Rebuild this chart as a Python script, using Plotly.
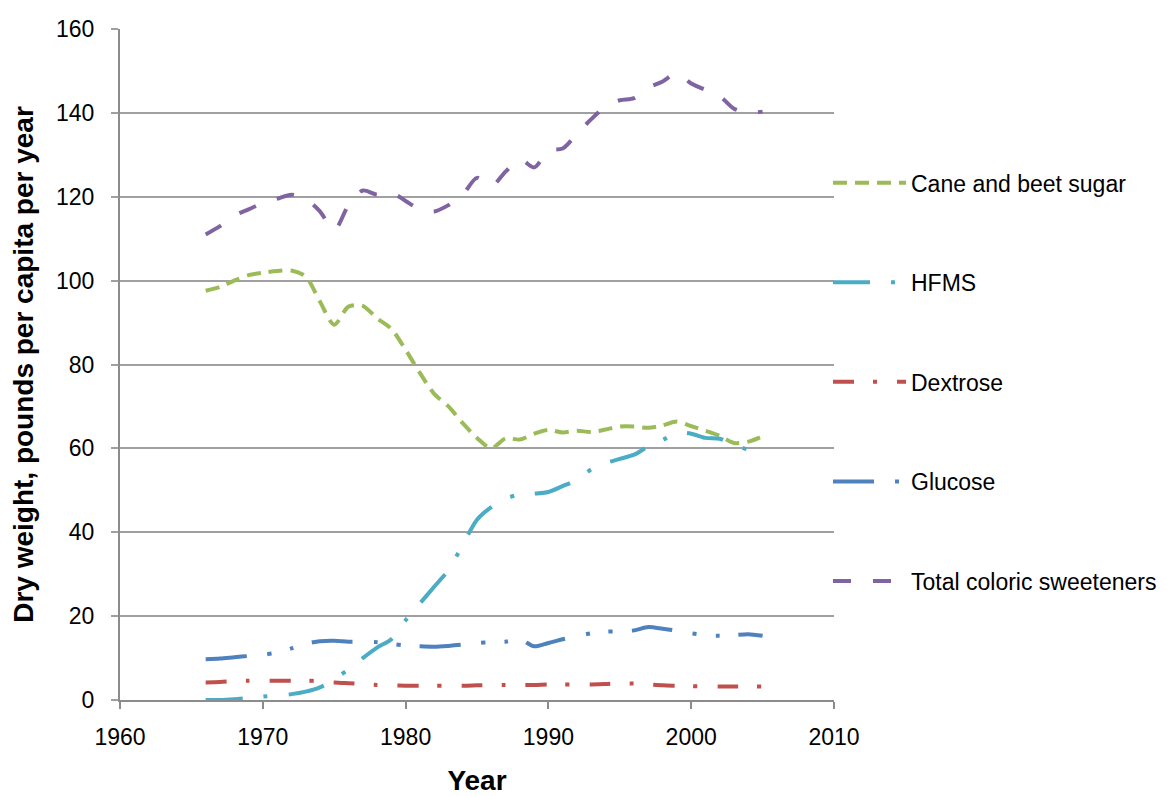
import plotly.graph_objects as go

years = list(range(1966, 2006))

cane_beet = [97.6, 98.5, 100.0, 101.3, 101.9, 102.3, 102.4, 101.0, 95.0, 89.5,
             93.8, 94.0, 91.0, 88.5, 83.5, 78.0, 73.0, 70.0, 66.0, 62.5,
             60.0, 62.4, 62.1, 63.5, 64.4, 63.8, 64.2, 63.9, 64.5, 65.2,
             65.2, 64.9, 65.5, 66.4, 65.3, 64.2, 63.0, 61.3, 61.6, 62.9]

hfms = [0.0, 0.0, 0.2, 0.5, 0.8, 1.1, 1.4, 2.0, 3.0, 5.0,
        7.3, 10.0, 12.5, 14.5, 19.0, 23.0, 27.0, 31.0, 37.0, 43.0,
        46.0, 48.0, 49.0, 49.2, 49.6, 51.0, 52.5, 55.0, 56.5, 57.5,
        58.5, 60.5, 62.0, 63.7, 63.5, 62.5, 62.3, 60.8, 59.7, 59.0]

dextrose = [4.2, 4.3, 4.5, 4.6, 4.6, 4.6, 4.6, 4.6, 4.5, 4.2,
            4.0, 3.8, 3.6, 3.5, 3.4, 3.4, 3.4, 3.4, 3.4, 3.5,
            3.6, 3.6, 3.6, 3.6, 3.7, 3.7, 3.7, 3.7, 3.8, 4.0,
            3.9, 3.7, 3.5, 3.4, 3.3, 3.2, 3.2, 3.2, 3.2, 3.2]

glucose = [9.7, 9.9, 10.2, 10.5, 10.8, 11.3, 12.3, 13.4, 14.0, 14.1,
           13.9, 13.9, 13.8, 13.4, 13.0, 12.8, 12.7, 12.9, 13.2, 13.6,
           13.8, 13.9, 14.5, 12.8, 13.6, 14.5, 15.2, 15.9, 16.3, 16.4,
           16.6, 17.4, 17.0, 16.5, 15.9, 15.5, 15.3, 15.5, 15.7, 15.3]

total = [111.0, 113.0, 115.5, 117.0, 118.5, 119.5, 120.5, 119.5, 116.5, 112.0,
         118.0, 121.5, 120.5, 121.0, 119.0, 117.0, 116.5, 118.0, 120.5, 124.5,
         122.5, 126.0, 129.0, 127.0, 131.0, 131.5, 135.0, 138.5, 141.5, 143.0,
         143.5, 146.0, 147.5, 149.5, 147.0, 145.5, 144.0, 141.0, 140.0, 140.3]

series = [
    ("Cane and beet sugar", cane_beet, "#9BBB59", "14px,8px"),
    ("HFMS", hfms, "#4BACC6", "37px,21px,4px,21px"),
    ("Dextrose", dextrose, "#C0504D", "21px,19px,4px,20px"),
    ("Glucose", glucose, "#4F81BD", "41px,21px,4px,19px,4px,19px"),
    ("Total coloric sweeteners", total, "#8064A2", "18px,22px"),
]

fig = go.Figure()
for name, vals, color, dash in series:
    fig.add_trace(go.Scatter(
        x=years, y=vals, name=name, mode="lines", legendgroup=name,
        line=dict(color=color, width=4, dash=dash, shape="spline", smoothing=0.8),
    ))

font = "Liberation Sans, Arial, sans-serif"
fig.update_layout(
    width=1171, height=796,
    margin=dict(l=120, r=337, t=29, b=96, autoexpand=False),
    paper_bgcolor="white", plot_bgcolor="white",
    font=dict(family=font, size=23, color="black"),
    showlegend=True,
    legend=dict(x=0.9916, xanchor="left", y=0.803, yanchor="top",
                tracegroupgap=66.7, itemwidth=73, font=dict(size=23),
                bgcolor="rgba(0,0,0,0)"),
)
fig.update_xaxes(
    range=[1960, 2010], dtick=10, tick0=1960, showgrid=False, automargin=False,
    showline=True, linecolor="#8C8C8C", linewidth=2,
    ticks="outside", ticklen=7, tickwidth=2, tickcolor="#8C8C8C",
    ticklabelstandoff=8, zeroline=False,
    title=dict(text="<b>Year</b>", standoff=31),
)
fig.update_yaxes(
    range=[0, 160], dtick=20, showgrid=True, gridcolor="#A0A0A0", gridwidth=2,
    automargin=False,
    showline=True, linecolor="#8C8C8C", linewidth=2,
    ticks="outside", ticklen=7, tickwidth=2, tickcolor="#A0A0A0",
    ticklabelstandoff=12, zeroline=False,
    title=dict(text="<b>Dry weight, pounds per capita per year</b>", standoff=14),
)

fig.write_html("out.html", config={"displayModeBar": False},
               post_script="document.body.style.margin='0';")
